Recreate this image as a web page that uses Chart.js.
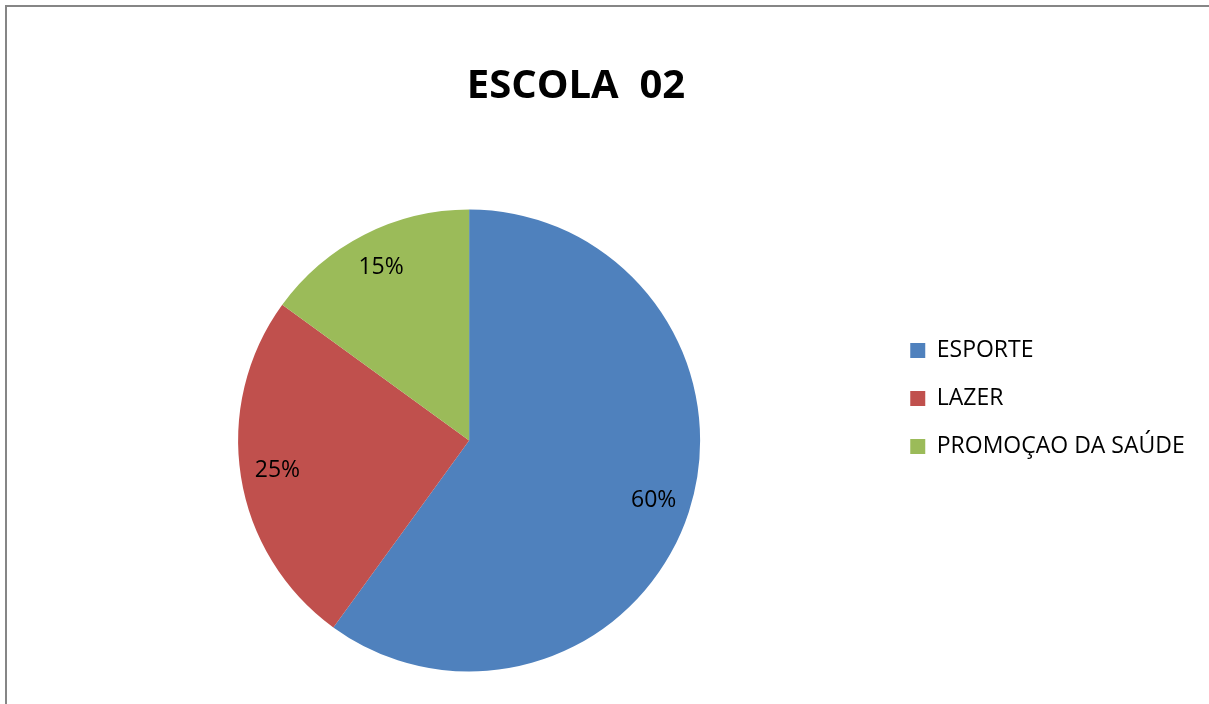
<!DOCTYPE html>
<html>
<head>
<meta charset="utf-8">
<script src="https://cdn.jsdelivr.net/npm/chart.js@4.4.1/dist/chart.umd.min.js"></script>
<style>
    html, body { margin: 0; padding: 0; background: #fff; overflow: hidden; }
    /* canvas starts a bit left of the window so the title can sit where the original has it */
    #wrap { position: absolute; left: -60px; top: 0; width: 1269px; height: 800px; }
</style>
</head>
<body>
<div id="wrap"><canvas id="escola"></canvas></div>
<script>
const ctx = document.getElementById("escola");

const categories = ['ESPORTE', 'LAZER', 'PROMOÇAO DA SAÚDE'];
const percentages = [60, 25, 15];
const sliceColors = ['#4F81BD', '#C0504D', '#9BBB59'];
const chartTitle = 'ESCOLA  02';

// frame like the office chart border (only top/left visible in window)
const framePlugin = {
    id: 'frame',
    beforeDraw(chart) {
        const c = chart.ctx;
        c.save();
        c.fillStyle = '#fff';
        c.fillRect(0, 0, chart.width, chart.height);
        c.strokeStyle = '#868686';
        c.lineWidth = 2;
        c.strokeRect(66, 6, chart.width, chart.height + 20);
        c.restore();
    }
};

// percentage labels inside the slices
const sliceLabels = {
    id: 'sliceLabels',
    afterDatasetsDraw(chart) {
        const c = chart.ctx;
        const meta = chart.getDatasetMeta(0);
        c.save();
        c.font = '23px "Open Sans"';
        c.fillStyle = '#000';
        c.textAlign = 'center';
        c.textBaseline = 'middle';
        meta.data.forEach((arc, i) => {
            const p = arc.getProps(['x', 'y', 'startAngle', 'endAngle', 'outerRadius'], true);
            const mid = (p.startAngle + p.endAngle) / 2;
            const r = p.outerRadius * 0.84;
            c.fillText(percentages[i] + '%', p.x + Math.cos(mid) * r, p.y + Math.sin(mid) * r);
        });
        c.restore();
    }
};

const chart = new Chart(ctx, {
    type: 'pie',
    data: {
        labels: categories,
        datasets: [
            {
                data: percentages,
                backgroundColor: sliceColors,
                borderWidth: 0,
                hoverOffset: 0,
                radius: 231
            }
        ]
    },
    options: {
        responsive: true,
        maintainAspectRatio: false,
        animation: false,
        events: [],
        layout: {
            padding: { top: 0, bottom: 3, left: 17.5, right: 14.5 }
        },
        plugins: {
            title: {
                display: true,
                text: chartTitle,
                color: '#000',
                font: { family: '"Open Sans"', size: 40, weight: 'bold', lineHeight: '0px' },
                padding: { top: 87, bottom: -3 }
            },
            // empty spacer on the left, keeps the pie off-centre from the title
            subtitle: {
                display: true,
                text: '',
                position: 'left',
                font: { lineHeight: '0px' },
                padding: { top: 95.5, bottom: 0 }
            },
            legend: {
                position: 'right',
                fullSize: true,
                labels: {
                    color: '#000',
                    font: { family: '"Open Sans"', size: 23 },
                    boxWidth: 15,
                    boxHeight: 15,
                    padding: 25
                }
            },
            tooltip: { enabled: false }
        }
    },
    plugins: [framePlugin, sliceLabels]
});
</script>
</body>
</html>
